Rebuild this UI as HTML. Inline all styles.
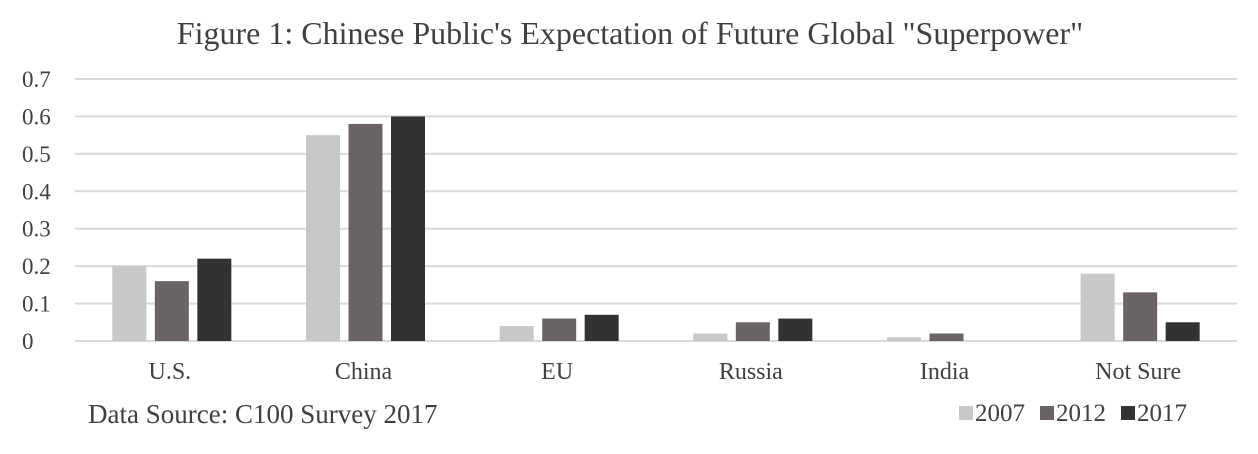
<!DOCTYPE html>
<html><head><meta charset="utf-8"><style>
body{margin:0;background:#fff;}
svg text{font-family:"Liberation Serif",serif;fill:#404040;}
</style></head><body>
<svg id="chart" width="1258" height="449" xmlns="http://www.w3.org/2000/svg">
<text x="630" y="44" text-anchor="middle" font-size="32">Figure 1: Chinese Public's Expectation of Future Global "Superpower"</text>
<g id="grid"></g><g id="bars"></g><g id="labels"></g>
<text x="88" y="423" font-size="27">Data Source: C100 Survey 2017</text>
<g id="legend"></g>
</svg>
<script>
const categories=["U.S.","China","EU","Russia","India","Not Sure"];
const series=["2007","2012","2017"];
const v2007=[0.20,0.55,0.04,0.02,0.01,0.18];
const v2012=[0.16,0.58,0.06,0.05,0.02,0.13];
const v2017=[0.22,0.60,0.07,0.06,0.00,0.05];
const yTicks=[0,0.1,0.2,0.3,0.4,0.5,0.6,0.7];
const colors=["#c9c8c6","#6a6564","#343230"];
const values=[v2007,v2012,v2017];
const NS="http://www.w3.org/2000/svg";
const x0=75,x1=1237,y0=341,yTop=79,yMax=0.7;
const y=v=>y0-(v/yMax)*(y0-yTop);
const cw=(x1-x0)/categories.length;
const bw=34,gap=8.5;
function mk(t,a,p){const e=document.createElementNS(NS,t);for(const k in a)e.setAttribute(k,a[k]);p.appendChild(e);return e;}
const grid=document.getElementById('grid');
yTicks.forEach(t=>{
 const l=mk('line',{x1:x0,x2:x1,y1:y(t),y2:y(t),stroke:'#d9d9d9','stroke-width':2},grid);
 
 
 const tx=mk('text',{x:22,y:y(t)+8,'font-size':23},grid);tx.textContent=String(t);
 
 
});
const bars=document.getElementById('bars'),labels=document.getElementById('labels');
categories.forEach((c,i)=>{
 const cx=x0+cw*(i+0.5);
 const start=cx-(3*bw+2*gap)/2;
 values.forEach((arr,s)=>{
  const v=arr[i];
  const r=mk('rect',{x:start+s*(bw+gap),y:y(v),width:bw,height:y0-y(v),fill:colors[s]},bars);
  
  
 });
 const t=mk('text',{x:cx-2,y:379,'text-anchor':'middle','font-size':24},labels);t.textContent=c;
 
 
});
const lg=document.getElementById('legend');
const lx=[959,1040,1121];
series.forEach((s,i)=>{
 const r=mk('rect',{x:lx[i],y:406,width:14,height:14,fill:colors[i]},lg);
 
 
 const t=mk('text',{x:lx[i]+16,y:421,'font-size':25},lg);t.textContent=s;
 
 
});
</script>
</body></html>
